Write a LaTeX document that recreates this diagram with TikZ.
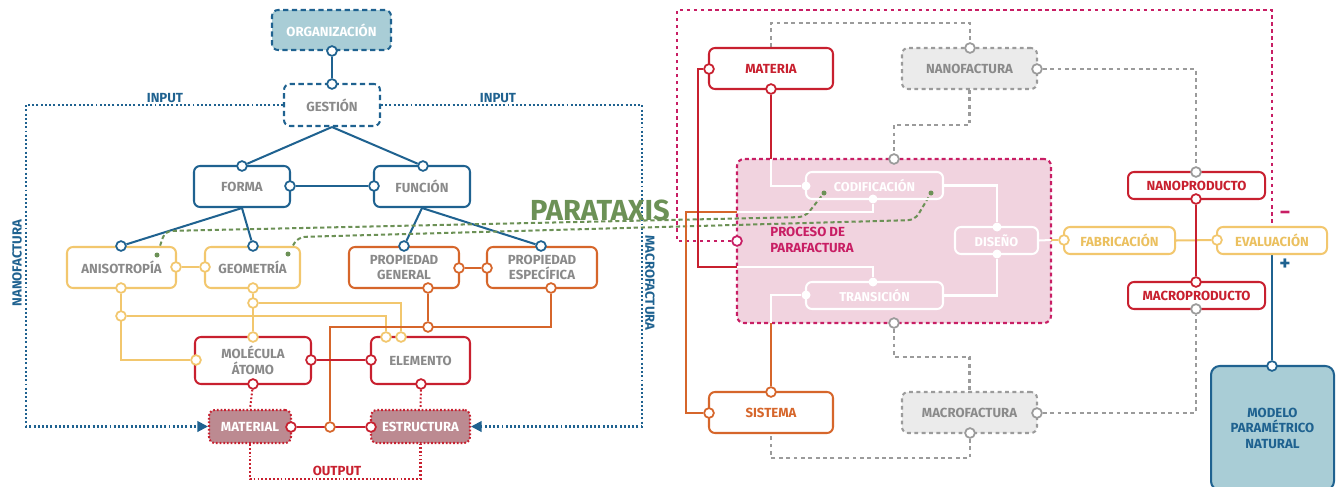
\documentclass[tikz,border=0pt]{standalone}
\usepackage{fontspec}
\setmainfont{Fira Sans}
\usetikzlibrary{arrows.meta}
\definecolor{cBlue}{HTML}{1F6290}
\definecolor{cTeal}{HTML}{A9CDD6}
\definecolor{cGray}{HTML}{8A8A8A}
\definecolor{cLine}{HTML}{9B9B9B}
\definecolor{cFill}{HTML}{EBEBEB}
\definecolor{cYel}{HTML}{F2C76E}
\definecolor{cYelT}{HTML}{EBC05F}
\definecolor{cOra}{HTML}{D6662B}
\definecolor{cRed}{HTML}{C8202F}
\definecolor{cRose}{HTML}{BC8A91}
\definecolor{cMag}{HTML}{C81E64}
\definecolor{cPink}{HTML}{F1D3DF}
\definecolor{cGreen}{HTML}{6C9156}
\pgfdeclarelayer{back}
\pgfdeclarelayer{wires}
\pgfsetlayers{back,wires,main}
% box from its corners (x1,y1)-(x2,y2) in pixel units
\newcommand\mkbox[7]{\node[#6,minimum width={(#4-#2)*0.02cm},minimum height={(#5-#3)*0.02cm}] (#1) at ({(#2+#4)/2},{(#3+#5)/2}) {#7};}
\newcommand\mkport[4]{\node[port=#4] (#1) at (#2,#3) {};}
\newcommand\mkdot[3]{\node[wdot] (#1) at (#2,#3) {};}
\begin{document}
\begin{tikzpicture}[x=0.02cm,y=-0.02cm,
  lbl/.style={font=\bfseries\fontsize{7.5}{8.8}\selectfont},
  nbox/.style={lbl,draw,rounded corners=3.4pt,line width=1.15pt,inner sep=0pt,align=center,text=cGray,fill=white},
  boxB/.style={nbox,draw=cBlue},
  boxY/.style={nbox,draw=cYel},
  boxO/.style={nbox,draw=cOra},
  boxR/.style={nbox,draw=cRed},
  boxOrg/.style={nbox,draw=cBlue,fill=cTeal,text=white,dash pattern=on 3pt off 2pt},
  boxGes/.style={nbox,draw=cBlue,dash pattern=on 3pt off 2pt},
  boxOut/.style={nbox,draw=cRed,fill=cRose,text=white,dash pattern=on 1pt off 1.1pt},
  boxFac/.style={nbox,draw=cLine,fill=cFill,dash pattern=on 2.2pt off 2pt},
  boxPro/.style={draw=cMag,fill=cPink,rounded corners=4pt,line width=1.2pt,dash pattern=on 2.2pt off 1.8pt,inner sep=0pt},
  boxIn/.style={nbox,draw=white,fill=none,text=white,font=\bfseries\fontsize{7.3}{8.8}\selectfont},
  boxMod/.style={nbox,draw=cBlue,fill=cTeal,text=cBlue,rounded corners=5pt},
  port/.style={circle,draw=#1,fill=white,line width=1pt,minimum size=0.195cm,inner sep=0pt},
  wdot/.style={circle,fill=white,minimum size=0.18cm,inner sep=0pt},
  gdot/.style={circle,fill=cGreen,minimum size=0.1cm,inner sep=0pt},
  wire/.style={line width=1.15pt},
  wB/.style={wire,draw=cBlue},
  wY/.style={wire,draw=cYel},
  wO/.style={wire,draw=cOra},
  wR/.style={wire,draw=cRed},
  wW/.style={wire,draw=white},
  wRd/.style={wire,draw=cRed,dash pattern=on 1pt off 1.2pt},
  wIn/.style={wire,draw=cBlue,dash pattern=on 1.1pt off 1.3pt,-{Triangle[length=6pt,width=6pt]}},
  wGr/.style={wire,draw=cGreen,dash pattern=on 2.4pt off 1.6pt,rounded corners=4pt},
  wGy/.style={wire,draw=cLine,dash pattern=on 2.2pt off 2pt},
  wMag/.style={line width=1.2pt,draw=cMag,dash pattern=on 2pt off 2pt},
  tag/.style={lbl,inner sep=0pt}]
\useasboundingbox (0,0) rectangle (1336,487);

% ---------- left: organisation tree ----------
\mkbox{org}{272}{10}{391}{50}{boxOrg}{ORGANIZACIÓN}
\mkbox{ges}{284}{84}{380}{126}{boxGes}{GESTIÓN}
\mkbox{for}{194}{166}{290}{207}{boxB}{FORMA}
\mkbox{fun}{374}{166}{470}{207}{boxB}{FUNCIÓN}
\mkbox{ani}{67}{247}{176}{288}{boxY}{ANISOTROPÍA}
\mkbox{geo}{205}{247}{300}{288}{boxY}{GEOMETRÍA}
\mkbox{pg}{349}{247}{459}{288}{boxO}{PROPIEDAD\\GENERAL}
\mkbox{pe}{487}{247}{597}{288}{boxO}{PROPIEDAD\\ESPECÍFICA}
\mkbox{mol}{195}{337}{311}{384}{boxR}{MOLÉCULA\\ÁTOMO}
\mkbox{ele}{371}{337}{470}{384}{boxR}{ELEMENTO}
\mkbox{mat}{209}{410}{291}{443}{boxOut}{MATERIAL}
\mkbox{est}{371}{410}{470}{443}{boxOut}{ESTRUCTURA}

% ---------- right: process ----------
\begin{pgfonlayer}{back}
\mkbox{pro}{737}{159}{1051}{323}{boxPro}{}
\end{pgfonlayer}
\mkbox{mta}{709}{48}{833}{89}{boxR,text=cRed}{MATERIA}
\mkbox{nan}{902}{48}{1037}{89}{boxFac}{NANOFACTURA}
\mkbox{mac}{902}{392}{1037}{433}{boxFac}{MACROFACTURA}
\mkbox{sis}{709}{392}{833}{433}{boxO,text=cOra}{SISTEMA}
\mkbox{cod}{806}{172}{943}{199}{boxIn}{CODIFICACIÓN}
\mkbox{tra}{806}{282}{943}{309}{boxIn}{TRANSICIÓN}
\mkbox{dis}{955}{227}{1038}{254}{boxIn}{DISEÑO}
\mkbox{np}{1128}{172}{1265}{199}{boxR,text=cRed}{NANOPRODUCTO}
\mkbox{mp}{1128}{282}{1265}{309}{boxR,text=cRed}{MACROPRODUCTO}
\mkbox{fab}{1064}{227}{1175}{254}{boxY,text=cYelT}{FABRICACIÓN}
\mkbox{eva}{1217}{227}{1327}{254}{boxY,text=cYelT}{EVALUACIÓN}
\mkbox{mod}{1211}{366}{1334}{490}{boxMod}{MODELO\\PARAMÉTRICO\\NATURAL}
\node[tag,text=cMag,align=left,anchor=west] (proLbl) at (770,240) {PROCESO DE\\PARAFACTURA};

% ---------- ports ----------
\mkport{pOrgS}{332}{51}{cBlue}
\mkport{pGesN}{332}{84}{cBlue}
\mkport{pForN}{242}{166}{cBlue}
\mkport{pForE}{290}{186}{cBlue}
\mkport{pFunN}{423}{166}{cBlue}
\mkport{pFunW}{374}{186}{cBlue}
\mkport{pAniN}{121}{246}{cBlue}
\mkport{pGeoN}{253}{246}{cBlue}
\mkport{pPgN}{404}{246}{cBlue}
\mkport{pPeN}{541}{246}{cBlue}
\mkport{pAniE}{176}{267}{cYel}
\mkport{pAniS}{121}{288}{cYel}
\mkport{pGeoW}{205}{267}{cYel}
\mkport{pGeoS}{253}{288}{cYel}
\mkport{jA}{121}{316}{cYel}
\mkport{jG}{253}{303}{cYel}
\mkport{pMolN}{253}{337}{cYel}
\mkport{pMolW}{196}{360}{cYel}
\mkport{pEleN1}{386}{337}{cYel}
\mkport{pEleN2}{401}{337}{cYel}
\mkport{pPgE}{459}{268}{cOra}
\mkport{pPgS}{428}{288}{cOra}
\mkport{pPeW}{487}{268}{cOra}
\mkport{pPeS}{551}{288}{cOra}
\mkport{jP}{428}{327}{cOra}
\mkport{jM}{330}{427}{cOra}
\mkport{pMolE}{311}{360}{cRed}
\mkport{pMolS}{253}{384}{cRed}
\mkport{pEleW}{371}{360}{cRed}
\mkport{pEleS}{421}{384}{cRed}
\mkport{pMatE}{291}{427}{cRed}
\mkport{pEstW}{371}{427}{cRed}
\mkport{pMtaW}{709}{69}{cRed}
\mkport{pMtaS}{771}{89}{cRed}
\mkport{pSisN}{771}{392}{cOra}
\mkport{pSisW}{709}{413}{cOra}
\mkport{pProW}{737}{241}{cMag}
\mkport{pProN}{894}{159}{cLine}
\mkport{pProS}{894}{323}{cLine}
\mkport{pNanN}{970}{48}{cLine}
\mkport{pNanE}{1037}{69}{cLine}
\mkport{pMacS}{970}{433}{cLine}
\mkport{pMacE}{1037}{413}{cLine}
\mkport{pNpN}{1196}{172}{cLine}
\mkport{pNpS}{1196}{199}{cRed}
\mkport{pMpN}{1196}{282}{cRed}
\mkport{pMpS}{1196}{309}{cLine}
\mkport{pFabW}{1064}{240}{cYel}
\mkport{pEvaW}{1217}{240}{cYel}
\mkport{pModN}{1272}{366}{cBlue}
\mkdot{dCodW}{806}{186}
\mkdot{dCodS}{873}{199}
\mkdot{dTraN}{873}{282}
\mkdot{dTraW}{806}{295}
\mkdot{dDisN}{997}{227}
\mkdot{dDisS}{997}{254}
\node[gdot] (gA) at (157,255) {};
\node[gdot] (gG) at (288,254) {};
\node[gdot] (gC1) at (824,193) {};
\node[gdot] (gC2) at (931,193) {};

% ---------- labels ----------
\node[tag,text=cBlue] (inLblL) at (165,98) {INPUT};
\node[tag,text=cBlue] (inLblR) at (498,98) {INPUT};
\node[tag,text=cBlue,rotate=90] (nanoLbl) at (17,263) {NANOFACTURA};
\node[tag,text=cBlue,rotate=-90] (macroLbl) at (650,283) {MACROFACTURA};
\node[tag,text=cRed] (outLbl) at (337,471) {OUTPUT};
\node[inner sep=0pt,text=cGreen,font=\bfseries\fontsize{16.5}{18}\selectfont] (parLbl) at (600,210) {PARATAXIS};
\node[inner sep=0pt,text=cMag,font=\bfseries\fontsize{12}{14}\selectfont] (minusLbl) at (1285,215) {−};
\node[inner sep=0pt,text=cBlue,font=\bfseries\fontsize{12}{14}\selectfont] (plusLbl) at (1285,265) {+};

% ---------- connectors ----------
\coordinate (inL) at (26,105);
\coordinate (inR) at (642,105);
\coordinate (oc) at (330,327);
\coordinate (fTL) at (677,10);
\coordinate (redIn) at (737,267);
\coordinate (redTop) at (771,159);
\coordinate (oraOut) at (737,212);
\coordinate (oraBot) at (771,323);
\coordinate (disOut) at (1051,240);
\begin{pgfonlayer}{wires}
% tree
\draw[wB] (pOrgS) -- (pGesN);
\draw[wB] (ges.south) -- (pForN);
\draw[wB] (ges.south) -- (pFunN);
\draw[wB] (pForE) -- (pFunW);
\draw[wB] (for.south) -- (pAniN);
\draw[wB] (for.south) -- (pGeoN);
\draw[wB] (fun.south) -- (pPgN);
\draw[wB] (fun.south) -- (pPeN);
\draw[wIn] (ges.west) -- (inL) |- (mat.west);
\draw[wIn] (ges.east) -- (inR) |- (est.east);
% form
\draw[wY] (pAniE) -- (pGeoW);
\draw[wY] (pAniS) |- (pMolW);
\draw[wY] (jA) -| (pEleN1);
\draw[wY] (pGeoS) -- (pMolN);
\draw[wY] (jG) -| (pEleN2);
% function
\draw[wO] (pPgE) -- (pPeW);
\draw[wO] (pPgS) -- (jP);
\draw[wO] (pPeS) |- (oc) -- (jM);
% matter
\draw[wR] (pMolE) -- (pEleW);
\draw[wR] (pMatE) -- (pEstW);
\draw[wRd] (pMolS) -- (mat.north);
\draw[wRd] (pEleS) -- (est.north);
\draw[wRd] (mat.south) -- ++(0,35) -| (est.south);
% parataxis
\draw[wGr] (gA) -- (165,231) -- (805,217) -- (gC1);
\draw[wGr] (gG) -- (298,237) -- (915,220) -- (gC2);
% process
\draw[wMag] (pProW) -| (fTL) -| (eva.north);
\draw[wO] (oraOut) -- (686,212) |- (pSisW);
\draw[wR] (pMtaW) -- (698,69) |- (redIn);
\draw[wW] (redIn) -| (dTraN);
\draw[wR] (pMtaS) -- (redTop);
\draw[wW] (redTop) |- (dCodW);
\draw[wW] (dCodS) |- (oraOut);
\draw[wW] (dTraW) -| (oraBot);
\draw[wO] (oraBot) -- (pSisN);
\draw[wW] (cod.east) -| (dDisN);
\draw[wW] (dDisS) |- (tra.east);
\draw[wW] (dis.east) -- (disOut);
\draw[wY] (disOut) -- (pFabW);
\draw[wY] (fab.east) -- (pEvaW);
\draw[wR] (pNpS) -- (pMpN);
\draw[wB] (eva.south) -- (pModN);
% fabrication scales
\draw[wGy] (mta.north) -- ++(0,-24) -| (pNanN);
\draw[wGy] (nan.south) -- ++(0,35) -| (pProN);
\draw[wGy] (pNanE) -| (pNpN);
\draw[wGy] (pProS) -- ++(0,34) -| (mac.north);
\draw[wGy] (pMacS) -- ++(0,25) -| (sis.south);
\draw[wGy] (pMacE) -| (pMpS);
\end{pgfonlayer}
\end{tikzpicture}
\end{document}
